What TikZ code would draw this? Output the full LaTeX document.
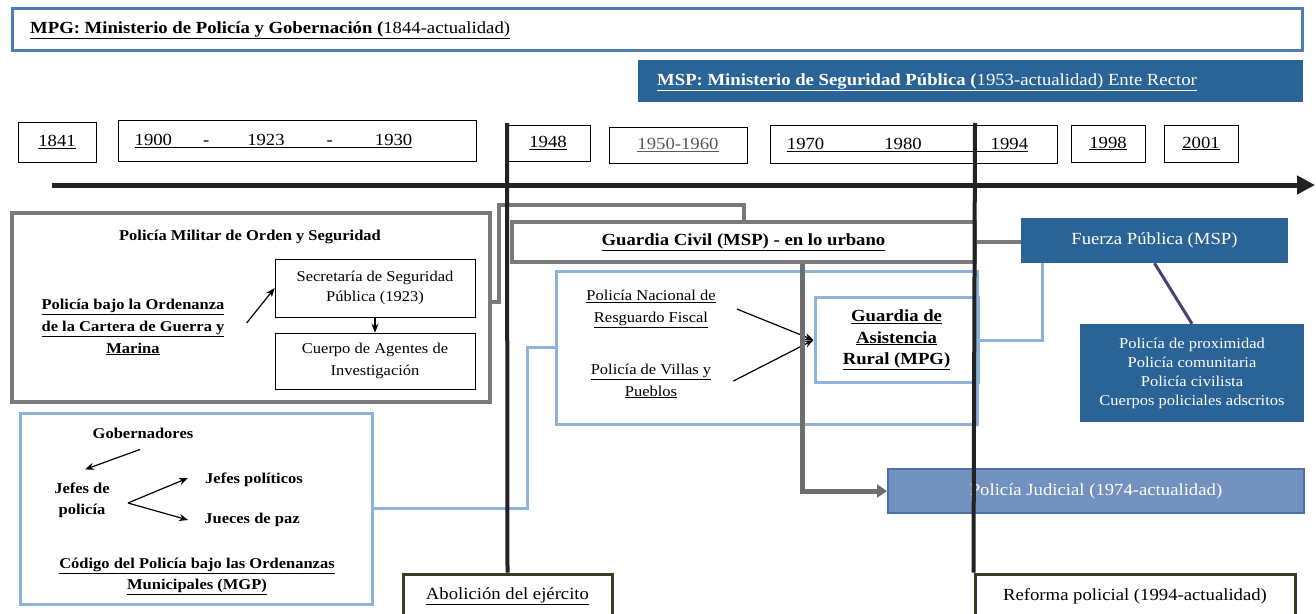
\documentclass[tikz,border=0pt]{standalone}
\usepackage{fontspec}
\setmainfont[FakeStretch=1.1]{Liberation Serif}
\usetikzlibrary{arrows.meta}

\definecolor{steel}{HTML}{2A6496}
\definecolor{mpgblue}{HTML}{4D7DB1}
\definecolor{lightblue}{HTML}{8DB3DB}
\definecolor{boxgray}{HTML}{7A7A7A}
\definecolor{judgray}{HTML}{6E6E6E}
\definecolor{pjfill}{HTML}{7391BE}
\definecolor{pjdraw}{HTML}{4B73A8}
\definecolor{purpleline}{HTML}{4B3F78}
\definecolor{olive}{HTML}{3A3A28}
\definecolor{lineblack}{HTML}{222222}

\newcommand{\undl}[1]{\underline{#1}}

\tikzset{
  yearbox/.style={draw=black, line width=0.6pt, inner sep=0pt},
  graybox/.style={draw=boxgray, line width=4pt, inner sep=0pt},
  bluebox/.style={draw=lightblue, line width=3pt, inner sep=0pt},
  steelbox/.style={fill=steel, text=white, inner sep=0pt},
  thinbox/.style={draw=black, line width=0.6pt, align=center, inner sep=0pt, font=\fontsize{15}{21}\selectfont},
  lbl/.style={align=center, inner sep=1pt, font=\fontsize{15}{22}\selectfont},
  lblb/.style={align=center, inner sep=1pt, font=\fontsize{15}{21}\selectfont\bfseries},
  lblbig/.style={align=center, inner sep=1pt, font=\fontsize{17}{21.5}\selectfont\bfseries},
  arr/.style={-{Stealth[length=9pt,width=7pt]}, line width=1.2pt},
  grayline/.style={draw=boxgray, line width=4pt},
  blueline/.style={draw=lightblue, line width=3pt},
  vline/.style={draw=lineblack, line width=4pt},
}

\begin{document}
\begin{tikzpicture}[x=1pt,y=-1pt,font=\fontsize{17}{20}\selectfont]
\useasboundingbox (0,0) rectangle (1316,613);

% ministerios
\node[draw=mpgblue, line width=3pt, minimum width=1290pt, minimum height=42pt, inner sep=0pt] (mpg) at (657,29) {};
\node[anchor=west, inner sep=0pt] (mpgtxt) at (30,30) {\undl{{\bfseries MPG: Ministerio de Policía y Gobernación (}1844-actualidad)}};
\node[steelbox, minimum width=665pt, minimum height=42pt] (msp) at (970.5,81) {};
\node[anchor=west, inner sep=0pt, text=white] (msptxt) at (657,82) {\undl{{\bfseries MSP: Ministerio de Seguridad Pública (}1953-actualidad) Ente Rector}};

% years
\node[yearbox, minimum width=78pt, minimum height=40pt] (y1841) at (57,142) {\undl{1841}};
\node[yearbox, minimum width=358pt, minimum height=41pt] (y1900) at (297,140.5) {};
\node (y1900txt) at (273.5,141) {\undl{1900\hspace{31pt}-\hspace{38pt}1923\hspace{42pt}-\hspace{42pt}1930}};
\node[yearbox, minimum width=84pt, minimum height=36pt] (y1948) at (548,143) {\undl{1948}};
\node[yearbox, minimum width=138pt, minimum height=36pt, text=black!65] (y1950) at (678,145) {\undl{1950-1960}};
\node[yearbox, minimum width=287pt, minimum height=38pt] (y1970) at (913.5,144) {};
\node (y1970txt) at (907.5,145) {\undl{1970\hspace{60pt}1980\hspace{69pt}1994}};
\node[yearbox, minimum width=74pt, minimum height=37pt] (y1998) at (1108,143.5) {\undl{1998}};
\node[yearbox, minimum width=74pt, minimum height=37pt] (y2001) at (1201,143.5) {\undl{2001}};

% timeline
\coordinate (t0) at (52,185);
\coordinate (t1) at (1315,185);
\draw[line width=5pt, draw=lineblack, -{Triangle[length=18pt,width=18pt]}] (t0) -- (t1);

% Policia Militar
\node[graybox, minimum width=478pt, minimum height=189pt] (pmos) at (251,307.5) {};
\node[lblb] (pmostit) at (250,237) {Policía Militar de Orden y Seguridad};
\node[lblb, font=\fontsize{15}{22}\selectfont\bfseries] (pbo) at (133,327) {\undl{Policía bajo la Ordenanza}\\\undl{de la Cartera de Guerra y}\\\undl{Marina}};
\node[thinbox, minimum width=200pt, minimum height=58pt, font=\fontsize{15}{20}\selectfont] (sec) at (375,288) {Secretaría de Seguridad\\Pública (1923)};
\node[thinbox, minimum width=200pt, minimum height=56pt, font=\fontsize{15}{22}\selectfont] (cue) at (375,361) {Cuerpo de Agentes de\\Investigación};
\draw[arr] ([xshift=21pt,yshift=4pt]pbo.east) -- (sec.west);
\draw[arr] (sec) -- (cue);

% Guardia Civil
\node[graybox, minimum width=463pt, minimum height=40pt, lblbig] (gc) at (743.5,242) {\undl{Guardia Civil (MSP) - en lo urbano}};
\draw[grayline] ([yshift=6pt]pmos.east) -- ++(7,0) |- ([yshift=15pt]gc.north) -- (gc.north);

% Fuerza Publica
\node[steelbox, minimum width=267pt, minimum height=45pt] (fp) at (1154.5,240.5) {Fuerza Pública (MSP)};
\node[steelbox, minimum width=224pt, minimum height=98pt, align=center, font=\fontsize{15}{19}\selectfont] (fpl) at (1192,373) {Policía de proximidad\\Policía comunitaria\\Policía civilista\\Cuerpos policiales adscritos};
\draw[line width=3pt, draw=purpleline] (fp.south) -- (fpl.north);
\draw[grayline] (gc.east) -- (gc.east -| fp.west);

% Guardia de Asistencia Rural
\node[bluebox, minimum width=421pt, minimum height=153pt] (bb) at (766.5,347.5) {};
\node[lbl] (pn) at (651,309) {\undl{Policía Nacional de}\\\undl{Resguardo Fiscal}};
\node[lbl] (pv) at (651,381) {\undl{Policía de Villas y}\\\undl{Pueblos}};
\node[bluebox, minimum width=163pt, minimum height=85pt, lblbig] (gar) at (896.5,340) {\undl{Guardia de}\\\undl{Asistencia}\\\undl{Rural (MPG)}};
\draw[arr] ([xshift=20pt]pn.east) -- (gar.west);
\draw[arr] ([xshift=21pt]pv.east) -- (gar.west);
\draw[blueline] (gar.east) -| ([xshift=-112pt]fp.south);

% Policia Judicial
\node[fill=pjfill, draw=pjdraw, line width=2pt, text=white, minimum width=416pt, minimum height=44pt] (pj) at (1096,491) {Policía Judicial (1974-actualidad)};
\coordinate (jx) at (802,0);
\draw[draw=judgray, line width=5pt, -{Triangle[length=10pt,width=13pt]}] (jx |- gc.south) |- (pj.west);

% Codigo del Policia
\node[bluebox, minimum width=352pt, minimum height=191pt] (cod) at (196,508.5) {};
\node[lblb] (gob) at (143,433) {Gobernadores};
\node[lblb] (jp) at (82,500) {Jefes de\\policía};
\node[lblb] (jpo) at (254,480) {Jefes políticos};
\node[lblb] (jz) at (252,520) {Jueces de paz};
\node[lblb] (codtit) at (197,576) {\undl{Código del Policía bajo las Ordenanzas}\\\undl{Municipales (MGP)}};
\draw[arr] ([xshift=-3pt,yshift=-10pt]gob.south) -- ([xshift=3pt,yshift=12pt]jp.north);
\draw[arr] ([xshift=17pt,yshift=-3pt]jp.east) -- ([xshift=-16pt,yshift=2pt]jpo.west);
\draw[arr] ([xshift=17pt,yshift=-3pt]jp.east) -- ([xshift=-15pt]jz.west);
\coordinate (bj) at (527,0);
\draw[blueline] (cod.east) -- (bj |- cod.east) -- (bj |- bb.west) -- (bb.west);

% hitos
\node[draw=olive, line width=3pt, minimum width=209pt, minimum height=44pt] (abol) at (507.5,596) {\undl{Abolición del ejército}};
\node[draw=olive, line width=3pt, minimum width=320pt, minimum height=44pt] (ref) at (1135,596) {Reforma policial (1994-actualidad)};

% lineas verticales
\coordinate (v48) at (507,123);
\coordinate (v94) at (975,123);
\draw[vline] (v48) -- (abol.north);
\draw[vline] (v94) -- (ref.north west);
\end{tikzpicture}
\end{document}
